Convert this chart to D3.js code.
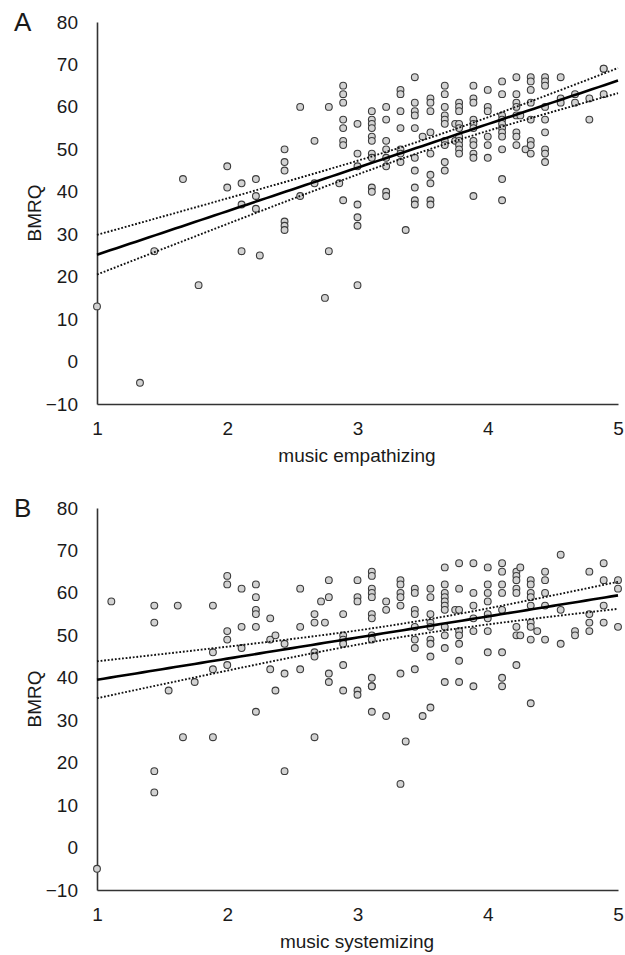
<!DOCTYPE html>
<html>
<head>
<meta charset="utf-8">
<script src="https://cdn.jsdelivr.net/npm/d3@7"></script>
<style>
  body { margin: 0; background: #fff; }
  svg { font-family: "Liberation Sans", Arial, sans-serif; }
</style>
</head>
<body>
<script>
// panel A: music empathizing vs BMRQ (one column of scores per x value)
var empX = [1.00, 1.33, 1.44, 1.66, 1.78, 2.00, 2.11, 2.22, 2.25, 2.44, 2.56, 2.67, 2.75, 2.78, 2.86,
            2.89, 3.00, 3.11, 3.22, 3.33, 3.37, 3.44, 3.50, 3.56, 3.67, 3.75, 3.78, 3.89, 4.00,
            4.11, 4.22, 4.25, 4.29, 4.33, 4.44, 4.56, 4.67, 4.78, 4.89];
var empBmrq = [
  [13], [-5], [26], [43], [18], [46, 41], [42, 37, 26], [43, 39, 36], [25],
  [50, 47, 45, 33, 32, 31], [60, 39], [52, 42], [15], [60, 26], [42],
  [65, 63, 61, 57, 55, 52, 51, 38], [56, 49, 46, 37, 34, 32, 18],
  [59, 57, 56, 55, 53, 52, 49, 48, 41, 40], [60, 57, 52, 50, 48, 46, 40, 39],
  [64, 63, 59, 55, 50, 49, 47], [31], [67, 61, 59, 58, 55, 48, 45, 41, 38, 37], [53],
  [62, 61, 59, 54, 49, 44, 42, 38, 37], [65, 63, 60, 58, 57, 56, 52, 51, 47, 45], [56, 52],
  [61, 60, 59, 56, 55, 53, 52, 51, 50, 49], [65, 62, 61, 57, 56, 55, 52, 51, 49, 48, 39],
  [64, 60, 59, 53, 51, 48], [66, 63, 58, 57, 56, 55, 54, 53, 50, 43, 38],
  [67, 63, 61, 60, 58, 54, 53, 51], [58], [50], [67, 66, 64, 61, 57, 52, 51, 49],
  [67, 66, 65, 60, 57, 54, 50, 49, 47], [67, 62, 61], [63, 61], [62, 57], [69, 69, 63]
];

// panel B: music systemizing vs BMRQ
var sysX = [1.00, 1.11, 1.44, 1.55, 1.62, 1.66, 1.75, 1.89, 2.00, 2.11, 2.22, 2.33, 2.37, 2.44,
            2.56, 2.67, 2.72, 2.75, 2.78, 2.89, 3.00, 3.11, 3.22, 3.33, 3.37, 3.44, 3.50, 3.56,
            3.67, 3.75, 3.78, 3.89, 4.00, 4.11, 4.22, 4.25, 4.33, 4.38, 4.44, 4.56, 4.67, 4.78,
            4.89, 5.00];
var sysBmrq = [
  [-5], [58], [57, 53, 18, 13], [37], [57], [26], [39], [57, 46, 42, 26], [64, 62, 51, 49, 43],
  [61, 52, 47], [62, 59, 56, 55, 52, 32], [54, 49, 42], [50, 37], [48, 41, 18], [61, 52, 42],
  [55, 53, 46, 45, 26], [58], [53], [63, 59, 41, 39], [55, 50, 49, 48, 43, 37],
  [63, 59, 58, 37, 36], [65, 64, 61, 60, 59, 55, 54, 50, 49, 40, 38, 38, 32], [58, 56, 31],
  [63, 62, 60, 59, 57, 41, 15], [25], [61, 60, 56, 55, 52, 49, 47, 42], [31],
  [61, 59, 55, 53, 52, 49, 48, 45, 33], [66, 62, 60, 59, 58, 57, 56, 52, 50, 47, 39], [56],
  [67, 61, 56, 51, 50, 48, 44, 39], [67, 60, 57, 54, 51, 38], [66, 62, 60, 58, 55, 54, 51, 46],
  [67, 65, 62, 60, 56, 46, 40, 38], [65, 64, 63, 61, 60, 52, 50, 43], [66, 50],
  [63, 62, 60, 59, 57, 53, 52, 49, 34], [51], [65, 63, 60, 57, 49], [69, 56, 48], [51, 50],
  [65, 55, 53, 51], [67, 63, 57, 53], [63, 61, 52]
];

var xTicks = [1, 2, 3, 4, 5];
var yTicks = [-10, 0, 10, 20, 30, 40, 50, 60, 70, 80];

var w = 625, h = 955;

var svg = d3.select("body").append("svg")
    .attr("width", w)
    .attr("height", h);

function flatten(xs, cols) {
  var out = [];
  xs.forEach(function(x, i) {
    cols[i].forEach(function(v) { out.push({x: x, y: v}); });
  });
  return out;
}

// least squares fit with 95% confidence band of the mean
function fit(data) {
  var n = data.length,
      mx = d3.mean(data, function(d) { return d.x; }),
      my = d3.mean(data, function(d) { return d.y; }),
      sxx = d3.sum(data, function(d) { return (d.x - mx) * (d.x - mx); }),
      sxy = d3.sum(data, function(d) { return (d.x - mx) * (d.y - my); }),
      b = sxy / sxx,
      a = my - b * mx,
      sse = d3.sum(data, function(d) { var r = d.y - (a + b * d.x); return r * r; }),
      s = Math.sqrt(sse / (n - 2)),
      t = 1.97;
  return {
    y: function(x) { return a + b * x; },
    hw: function(x) { return t * s * Math.sqrt(1 / n + (x - mx) * (x - mx) / sxx); }
  };
}

function panel(top, letter, title, xs, cols) {
  var data = flatten(xs, cols);
  var x = d3.scaleLinear().domain([1, 5]).range([97, 618]);
  var y = d3.scaleLinear().domain([-10, 80]).range([top + 382, top]);
  var g = svg.append("g");

  var yAxis = g.append("g")
      .attr("transform", "translate(97,0)")
      .call(d3.axisLeft(y).tickValues(yTicks).tickSize(0).tickPadding(19));
  var xAxis = g.append("g")
      .attr("transform", "translate(0," + (top + 382) + ")")
      .call(d3.axisBottom(x).tickValues(xTicks).tickSize(0).tickPadding(18).tickFormat(d3.format("d")));

  [xAxis, yAxis].forEach(function(ax) {
    ax.select(".domain").attr("stroke", "#333").attr("stroke-width", 1.6);
    ax.selectAll("text").attr("font-size", 19).attr("fill", "#1a1a1a")
      .attr("font-family", "'Liberation Sans', Arial, sans-serif");
  });

  var f = fit(data);
  var grid = d3.range(1, 5.001, 0.05);
  var line = function(off) {
    return d3.line()
      .x(function(v) { return x(v); })
      .y(function(v) { return y(f.y(v) + off * f.hw(v)); })(grid);
  };

  g.selectAll("circle").data(data).enter().append("circle")
      .attr("cx", function(d) { return x(d.x); })
      .attr("cy", function(d) { return y(d.y); })
      .attr("r", 3.4)
      .attr("fill", "#d2d2d2")
      .attr("stroke", "#3c3c3c")
      .attr("stroke-width", 1.1);

  [1, -1].forEach(function(off) {
    g.append("path").attr("d", line(off))
      .attr("fill", "none")
      .attr("stroke", "#111")
      .attr("stroke-width", 1.9)
      .attr("stroke-dasharray", "1.8,1.8");
  });
  g.append("path").attr("d", line(0))
      .attr("fill", "none")
      .attr("stroke", "#000")
      .attr("stroke-width", 2.6);

  g.append("text")
      .attr("x", 357).attr("y", top + 440)
      .attr("text-anchor", "middle")
      .attr("font-size", 19).attr("fill", "#1a1a1a")
      .text(title);

  g.append("text")
      .attr("transform", "translate(41," + (top + 191) + ") rotate(-90)")
      .attr("text-anchor", "middle")
      .attr("font-size", 19).attr("fill", "#1a1a1a")
      .text("BMRQ");

  g.append("text")
      .attr("x", 14).attr("y", top + 9)
      .attr("font-size", 26).attr("fill", "#1a1a1a")
      .text(letter);
}

panel(22, "A", "music empathizing", empX, empBmrq);
panel(508, "B", "music systemizing", sysX, sysBmrq);
</script>
</body>
</html>
